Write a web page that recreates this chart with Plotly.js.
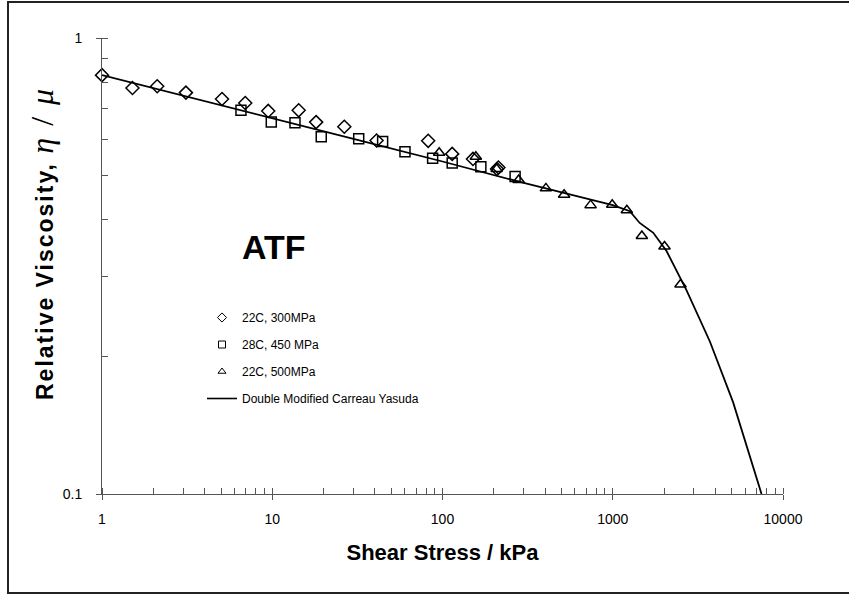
<!DOCTYPE html>
<html>
<head>
<meta charset="utf-8">
<script src="https://cdn.plot.ly/plotly-3.0.1.min.js"></script>
<style>
html, body { margin: 0; padding: 0; background: #fff; }
#wrap { position: relative; width: 849px; height: 594px; overflow: hidden; }
#frame { position: absolute; left: 7px; top: 1px; width: 900px; height: 589px; border-left: 2px solid #222; border-top: 2px solid #222; border-bottom: 2px solid #222; pointer-events: none; z-index: 5; }
#chart { position: absolute; left: 0; top: 0; width: 849px; height: 594px; }
</style>
</head>
<body>
<div id="wrap">
<div id="chart"></div>
<div id="frame"></div>
</div>
<script>
// Series: 22C, 300MPa (diamonds)
const x300 = [1, 1.51, 2.11, 3.11, 5.07, 6.94, 9.47, 14.3, 18.1, 26.5, 41, 82.4, 114, 151, 209, 213];
const y300 = [0.829, 0.777, 0.784, 0.759, 0.735, 0.720, 0.692, 0.694, 0.654, 0.639, 0.596, 0.595, 0.557, 0.543, 0.516, 0.520];
// Series: 28C, 450 MPa (squares)
const x450 = [6.55, 9.87, 13.6, 19.4, 32.2, 44.5, 60.2, 87.5, 114, 168, 267];
const y450 = [0.694, 0.654, 0.652, 0.607, 0.601, 0.593, 0.563, 0.545, 0.532, 0.522, 0.497];
// Series: 22C, 500MPa (triangles)
const x500 = [95.6, 157, 208, 280, 405, 518, 741, 993, 1210, 1482, 2014, 2500];
const y500 = [0.560, 0.549, 0.516, 0.488, 0.468, 0.453, 0.430, 0.431, 0.419, 0.368, 0.349, 0.288];
// Model curve: Double Modified Carreau Yasuda
const xFit = [1, 10, 30, 100, 300, 1000, 1260, 1440, 1730, 2070, 2710, 3720, 5090, 7480];
const yFit = [0.829, 0.668, 0.601, 0.536, 0.481, 0.430, 0.417, 0.393, 0.374, 0.341, 0.280, 0.216, 0.159, 0.100];

const names = ['22C, 300MPa', '28C, 450 MPa', '22C, 500MPa', 'Double Modified Carreau Yasuda'];
const xTicks = [1, 10, 100, 1000, 10000];
const xTickText = ['1', '10', '100', '1000', '10000'];
const yTicks = [0.1, 1];
const yTickText = ['0.1', '1'];

// minor tick positions (2..9 within each decade)
const minorOf = (decades) => { const v = []; decades.forEach(d => { for (let k = 1; k <= 10; k++) v.push(d * k); }); return v; };
const xMinor = minorOf([1, 10, 100, 1000]);
const yMinor = minorOf([0.1]);

const mk = (sym, size, w) => ({ symbol: sym, size: size, color: '#000', line: { color: '#000', width: w } });
const markerDefs = [['diamond-open', 10], ['square-open', 10], ['triangle-up-open', 10]];
const data = [[x300, y300], [x450, y450], [x500, y500]];

const traces = [];
data.forEach((d, i) => {
  traces.push({ x: d[0], y: d[1], name: names[i], type: 'scatter', mode: 'markers',
    marker: mk(markerDefs[i][0], markerDefs[i][1], 1.5), showlegend: false, cliponaxis: false });
});
traces.push({ x: xFit, y: yFit, name: names[3], type: 'scatter', mode: 'lines',
  line: { color: '#000', width: 1.8 }, showlegend: false });
// legend entries (small symbols like the original legend)
[0, 1, 2].forEach(i => {
  traces.push({ x: [null], y: [null], name: names[i], type: 'scatter', mode: 'markers',
    marker: mk(markerDefs[i][0], 7, 1), legendgroup: 'g' + i, showlegend: true });
});
traces.push({ x: [null], y: [null], name: names[3], type: 'scatter', mode: 'lines',
  line: { color: '#000', width: 1.6 }, legendgroup: 'g3', showlegend: true });

const W = 849, H = 594, L = 102, R = 66, T = 38, B = 100;
const pw = W - L - R, ph = H - T - B;
const px = (x) => (x - L) / pw;
const py = (y) => (H - B - y) / ph;

const tickStyle = { tickwidth: 1, tickcolor: '#555' };

const layout = {
  width: W, height: H,
  margin: { l: L, r: R, t: T, b: B, pad: 0 },
  paper_bgcolor: '#fff', plot_bgcolor: '#fff',
  font: { family: 'Liberation Sans, Arial, sans-serif', color: '#000', size: 14 },
  showlegend: true,
  legend: {
    x: px(202), y: py(303), xanchor: 'left', yanchor: 'top',
    bgcolor: 'rgba(0,0,0,0)', borderwidth: 0,
    font: { size: 12, family: 'Liberation Sans, Arial, sans-serif', color: '#000' },
    traceorder: 'grouped', tracegroupgap: 8, itemsizing: 'trace'
  },
  xaxis: {
    type: 'log', range: [0, 4],
    tickvals: xTicks, ticktext: xTickText,
    ticks: 'outside', ticklen: 5, ...tickStyle,
    minor: { ticks: 'inside', ticklen: 6, tickvals: xMinor, tickwidth: 1, tickcolor: '#555', showgrid: false },
    showline: true, linecolor: '#555', linewidth: 1, mirror: false,
    showgrid: false, zeroline: false,
    tickfont: { size: 14 }, ticklabelstandoff: 7,
    title: { text: '<b>Shear Stress / kPa</b>', font: { size: 22 }, standoff: 18 }
  },
  yaxis: {
    type: 'log', range: [-1, 0],
    tickvals: yTicks, ticktext: yTickText,
    ticks: 'outside', ticklen: 5, ...tickStyle,
    minor: { ticks: 'inside', ticklen: 6, tickvals: yMinor, tickwidth: 1, tickcolor: '#555', showgrid: false },
    showline: true, linecolor: '#555', linewidth: 1, mirror: false,
    showgrid: false, zeroline: false,
    tickfont: { size: 14 }, ticklabelstandoff: 11
  },
  annotations: [
    { text: '<b>ATF</b>', xref: 'paper', yref: 'paper', x: px(274), y: py(247), xanchor: 'center', yanchor: 'middle', showarrow: false,
      font: { size: 34, family: 'Liberation Sans, Arial, sans-serif', color: '#000' } },
    { text: '<b>Relative Viscosity, </b><span style="font-family:Liberation Serif, Times New Roman, serif;font-size:32px"><i>η</i> / <i>μ</i></span>',
      xref: 'paper', yref: 'paper', x: px(42), y: py(244), xanchor: 'center', yanchor: 'middle', showarrow: false, textangle: -90,
      font: { size: 23, family: 'Liberation Sans, Arial, sans-serif', color: '#000' } }
  ]
};

Plotly.newPlot('chart', traces, layout, { displayModeBar: false, staticPlot: true }).then(() => {
  const t = document.querySelectorAll('#chart .annotation-text');
  if (t.length > 1) t[1].style.letterSpacing = '2px';
});
</script>
</body>
</html>
